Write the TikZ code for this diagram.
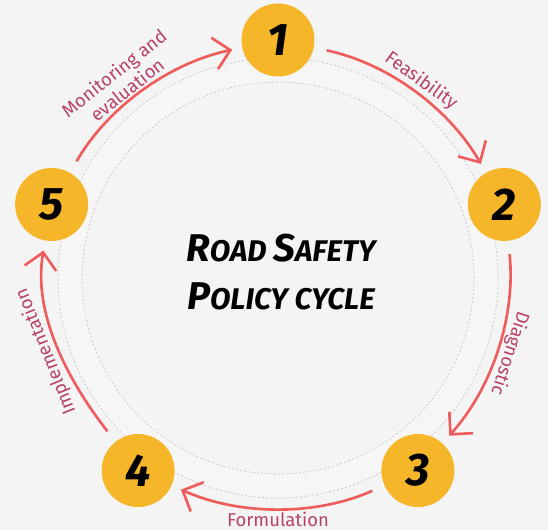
\documentclass[tikz,border=0pt]{standalone}
\usepackage{fontspec}
\setmainfont{Fira Sans}
\newfontfamily\titlefont{Fira Sans}
\usetikzlibrary{arrows.meta, positioning, calc}

\definecolor{stagegold}{HTML}{F6B62A}
\definecolor{arcred}{HTML}{EE5C5C}
\definecolor{labelred}{HTML}{B8426A}
\definecolor{paper}{HTML}{F4F4F4}

\begin{document}
\begin{tikzpicture}[
        % Define styles for the stages, arcs and labels
        stage/.style={circle, fill=stagegold, minimum size=1.46cm, inner sep=0pt, font=\fontsize{26}{26}\selectfont\bfseries\itshape},
        flow/.style={draw=arcred, line width=1.5pt, -{Straight Barb[length=3.2mm, width=6.4mm]}, looseness=0.9, shorten <=0.26cm, shorten >=0.2cm},
        tag/.style={text=labelred, font=\fontsize{10.5}{12}\selectfont, inner sep=1.5pt},
        ring/.style={draw=gray!45, line width=0.4pt, dash pattern=on 1.2pt off 1.2pt},
        titlebox/.style={align=center, font=\titlefont\bfseries\itshape\fontsize{17}{27}\selectfont}
    ]

    % --- Page ---
    \fill [paper] (-5.56,-5.04) rectangle (5.40,5.56);
    \useasboundingbox (-5.56,-5.04) rectangle (5.40,5.56);

    % Faint sketched ring
    \fill [gray!7, even odd rule] (0,0) circle (4.4) (0,0) circle (3.92);
    \draw [ring] (0,0) circle (4.4);
    \draw [ring] (0,0) circle (3.92);

    % --- Nodes ---
    % Title
    \node [titlebox] (title) at (0.06,0.12) {{\fontsize{22}{27}\selectfont R}OAD {\fontsize{22}{27}\selectfont S}AFETY \\ {\fontsize{22}{27}\selectfont P}OLICY CYCLE};

    % Stages
    \node [stage] (n1) at (90:4.76) {1};
    \node [stage] (n2) at (18:4.76) {2};
    \node [stage] (n3) at (-54:4.76) {3};
    \node [stage] (n4) at (-126:4.76) {4};
    \node [stage] (n5) at (162:4.76) {5};

    % --- Edges (Arrows) ---
    \path [flow] (n1) to[out=-12, in=120] node[tag, midway, sloped, above] {Feasibility} (n2);
    \path [flow] (n2) to[out=-84, in=48] node[tag, midway, sloped, allow upside down, above] {Diagnostic} (n3);
    \path [flow] (n3) to[out=-156, in=-24] node[tag, midway, sloped, below] {Formulation} (n4);
    \path [flow] (n4) to[out=128, in=-100] node[tag, midway, sloped, allow upside down, above] {Implementation} (n5);
    \path [flow] (n5) to[out=60, in=192] node[tag, pos=0.45, sloped, above, align=center] {Monitoring and \\ evaluation} (n1);

\end{tikzpicture}
\end{document}
